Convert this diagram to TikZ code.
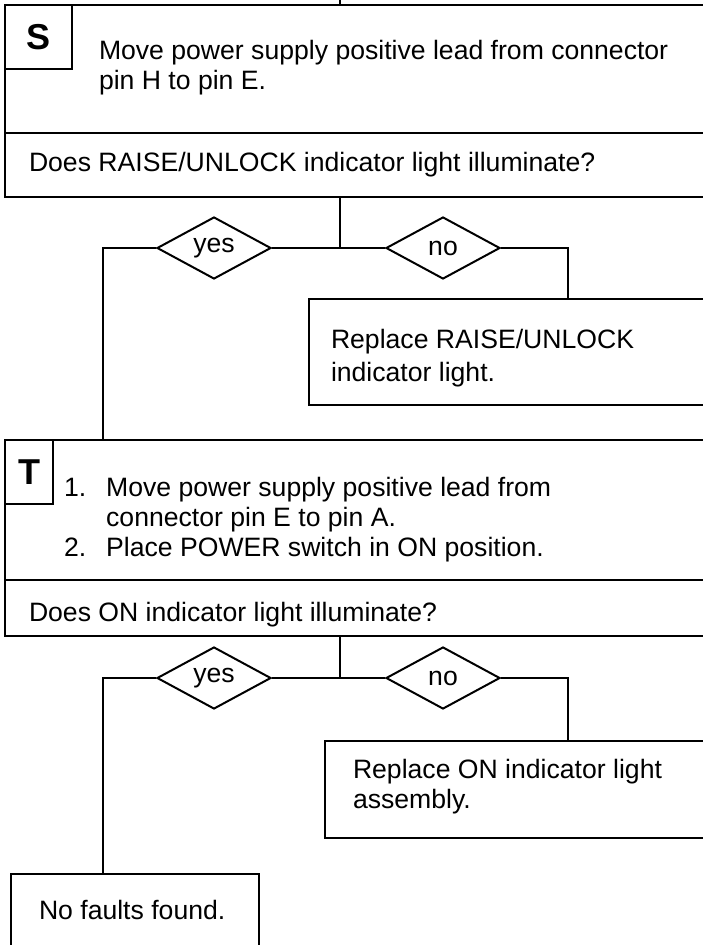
\documentclass[tikz,border=0pt]{standalone}
\usepackage{fontspec}
\setmainfont{Liberation Sans}
\usetikzlibrary{positioning,shapes.geometric}

\begin{document}
\begin{tikzpicture}[x=1pt, y=-1pt, line width=2pt,
  body/.style={font=\fontsize{26.6}{30}\selectfont},
  stepbox/.style={draw, anchor=north west, minimum width=720pt, inner sep=0pt, outer sep=0pt},
  letterbox/.style={draw, anchor=north west, inner sep=0pt, outer sep=0pt, minimum height=64pt,
                    font=\fontsize{36}{40}\selectfont\bfseries},
  fixbox/.style={draw, anchor=north west, inner sep=0pt},
  choice/.style={diamond, draw, inner sep=0pt, minimum width=114pt,
                 minimum height=62pt, body},
  txt/.style={body, align=left, inner sep=0pt},
  link/.style={line width=2pt}
]
\useasboundingbox (0,0) rectangle (703,945);
\clip (0,0) rectangle (703,945);

% step S
\coordinate (entry) at (340,0);
\node[stepbox, minimum height=128pt] (stepS) at (5,5) {};
\node[stepbox, minimum height=64pt] (askS) at (stepS.south west) {};
\node[letterbox, minimum width=67pt] (tagS) at (stepS.north west) {S};
\node[txt, anchor=west] (doS) at (98,68) {Move power supply positive lead from connector\\pin H to pin E.};
\node[txt, anchor=base west] (qS) at (28,171) {Does RAISE/UNLOCK indicator light illuminate?};

\coordinate (joinS) at (340,248);
\coordinate (leftS) at (103,248);
\coordinate (rightS) at (568,248);
\node[choice] (yesS) at (214,248) {yes};
\node[choice] (noS) at (443,248) {no};
\node[fixbox, minimum width=420pt, minimum height=106pt] (fixS) at (308,298) {};
\node[txt, anchor=west, font=\fontsize{26.6}{33}\selectfont] (fixSt) at (330,358) {Replace RAISE/UNLOCK\\indicator light.};

% step T
\node[stepbox, minimum height=140pt] (stepT) at (5,440) {};
\node[stepbox, minimum height=56pt] (askT) at (stepT.south west) {};
\node[letterbox, minimum width=48pt] (tagT) at (stepT.north west) {T};
\node[txt, anchor=west] (doT) at (63,520) {%
  \begin{tabular}{@{}l@{\hspace{20pt}}l@{}}
  1. & Move power supply positive lead from\\
     & connector pin E to pin A.\\
  2. & Place POWER switch in ON position.
  \end{tabular}};
\node[txt, anchor=base west] (qT) at (28,621) {Does ON indicator light illuminate?};

\coordinate (joinT) at (340,678);
\coordinate (leftT) at (103,678);
\coordinate (rightT) at (568,678);
\node[choice] (yesT) at (214,678) {yes};
\node[choice] (noT) at (443,678) {no};
\node[fixbox, minimum width=400pt, minimum height=97pt] (fixT) at (324,740) {};
\node[txt, anchor=west] (fixTt) at (352,787) {Replace ON indicator light\\assembly.};
\node[fixbox, minimum width=248pt, minimum height=100pt] (doneT) at (10,873) {};
\node[txt, anchor=base west] (doneTt) at (38,919) {No faults found.};

% connectors
\draw[link] (entry) -- (stepS.north -| entry);
\draw[link] (askS.south -| joinS) -- (joinS);
\draw[link] (joinS) -- (yesS.east);
\draw[link] (joinS) -- (noS.west);
\draw[link] (yesS.west) -- (leftS) -- (leftS |- stepT.north);
\draw[link] (noS.east) -- (rightS) -- (rightS |- fixS.north);

\draw[link] (askT.south -| joinT) -- (joinT);
\draw[link] (joinT) -- (yesT.east);
\draw[link] (joinT) -- (noT.west);
\draw[link] (yesT.west) -- (leftT) -- (leftT |- doneT.north);
\draw[link] (noT.east) -- (rightT) -- (rightT |- fixT.north);

\end{tikzpicture}
\end{document}
